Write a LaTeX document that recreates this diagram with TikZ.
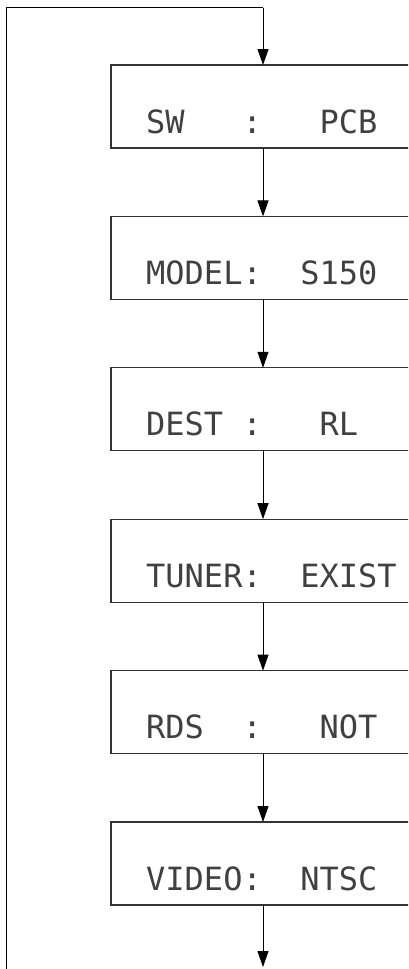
\documentclass[tikz,border=0pt]{standalone}
\usepackage{fontspec}
\newfontfamily\lcdfont{DejaVu Sans Mono}
\usetikzlibrary{arrows.meta}
\begin{document}
\begin{tikzpicture}[x=1pt,y=-1pt,
  box/.style={draw=black!80, line width=1.2pt, minimum width=304pt, minimum height=83pt, inner sep=0pt, outer sep=0pt},
  lcd/.style={anchor=base west, inner sep=0pt, text=black!75, font=\lcdfont\fontsize{32pt}{32pt}\selectfont},
  flow/.style={draw=black, line width=1pt, -{Triangle[length=16pt,width=11pt]}},
  wire/.style={draw=black, line width=1pt}]
\useasboundingbox (0,0) rectangle (408,969);
\clip (0,0) rectangle (408,969);
\foreach \i/\t in {1/65,2/216.4,3/367.8,4/519.2,5/670.6,6/822}{
  \node[box] (b\i) at (263,\t+41.5) {};
}
\node[lcd] (t1) at (146,65+68) {SW\ \ \ :\ \ \ PCB};
\node[lcd] (t2) at (146,216.4+68) {MODEL:\ \ S150};
\node[lcd] (t3) at (146,367.8+68) {DEST\ :\ \ \ RL};
\node[lcd] (t4) at (146,519.2+68) {TUNER:\ \ EXIST};
\node[lcd] (t5) at (146,670.6+68) {RDS\ \ :\ \ \ NOT};
\node[lcd] (t6) at (146,822+68) {VIDEO:\ \ NTSC};
\coordinate (top) at (263,7.5);
\coordinate (corner) at (6,7.5);
\coordinate (leftend) at (6,970);
\coordinate (endp) at (263,967);
\draw[wire] (leftend) -- (corner) -- (top);
\draw[flow] (top) -- (b1.north);
\draw[flow] (b1.south) -- (b2.north);
\draw[flow] (b2.south) -- (b3.north);
\draw[flow] (b3.south) -- (b4.north);
\draw[flow] (b4.south) -- (b5.north);
\draw[flow] (b5.south) -- (b6.north);
\draw[flow] (b6.south) -- (endp);
\end{tikzpicture}
\end{document}
